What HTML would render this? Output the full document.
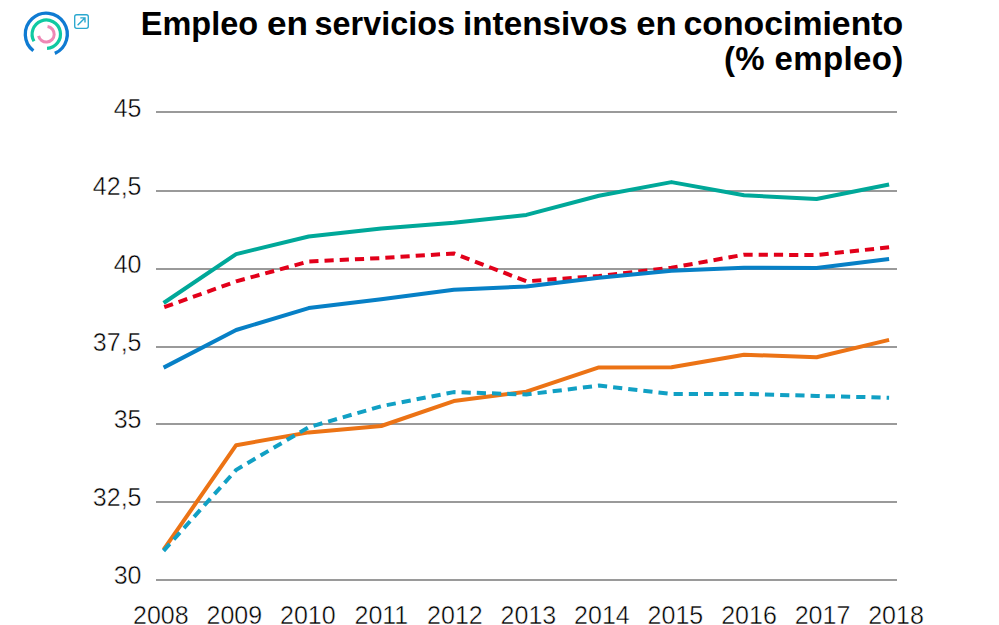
<!DOCTYPE html>
<html><head><meta charset="utf-8"><style>
html,body{margin:0;padding:0;background:#fff;width:999px;height:625px;overflow:hidden}
svg{display:block}
.t{font-family:"Liberation Sans",sans-serif;font-weight:bold;font-size:33px;fill:#000}
.l{font-family:"Liberation Sans",sans-serif;font-size:25px;fill:#000;stroke:#fff;stroke-width:0.45px}
</style></head><body>
<svg width="999" height="625" viewBox="0 0 999 625">
<rect width="999" height="625" fill="#fff"/>
<path d="M33.37 50.75A21 21 0 1 1 54.84 53.38" stroke="#0f7bd2" stroke-width="3.3" fill="none"/>
<path d="M34.00 41.30A14.2 14.2 0 1 1 47.04 48.38" stroke="#10c9a2" stroke-width="3.2" fill="none"/>
<path d="M47.54 26.40A7.9 7.9 0 1 1 38.57 35.84" stroke="#ee88b5" stroke-width="3" fill="none"/>
<rect x="74.7" y="14.7" width="13.6" height="13.6" rx="2" fill="none" stroke="#2aa8cf" stroke-width="1.35"/>
<path d="M77.6 25.2 L84.6 18.2 M80.3 17.9 H85 V22.6" fill="none" stroke="#2aa8cf" stroke-width="1.4"/>
<g class="t">
<text x="140.8" y="35" textLength="117.3" lengthAdjust="spacingAndGlyphs">Empleo</text><text x="266.9" y="35" textLength="41.05" lengthAdjust="spacingAndGlyphs">en</text><text x="314.6" y="35" textLength="140.3" lengthAdjust="spacingAndGlyphs">servicios</text><text x="463.1" y="35" textLength="164.3" lengthAdjust="spacingAndGlyphs">intensivos</text><text x="636.25" y="35" textLength="40.5" lengthAdjust="spacingAndGlyphs">en</text><text x="683.5" y="35" textLength="219.7" lengthAdjust="spacingAndGlyphs">conocimiento</text>
<text x="903.5" y="70" text-anchor="end" letter-spacing="0.35">(% empleo)</text>
</g>
<rect x="156" y="111" width="741" height="2" fill="#9a9a9a"/>
<rect x="156" y="190" width="741" height="2" fill="#9a9a9a"/>
<rect x="156" y="268" width="741" height="2" fill="#9a9a9a"/>
<rect x="156" y="346" width="741" height="2" fill="#9a9a9a"/>
<rect x="156" y="423" width="741" height="2" fill="#9a9a9a"/>
<rect x="156" y="501" width="741" height="2" fill="#9a9a9a"/>
<rect x="156" y="579" width="741" height="2" fill="#9a9a9a"/>
<g class="l">
<text x="141.5" y="117" text-anchor="end">45</text>
<text x="141.5" y="195" text-anchor="end">42,5</text>
<text x="141.5" y="273" text-anchor="end">40</text>
<text x="141.5" y="351" text-anchor="end">37,5</text>
<text x="141.5" y="428" text-anchor="end">35</text>
<text x="141.5" y="506" text-anchor="end">32,5</text>
<text x="141.5" y="584" text-anchor="end">30</text>
<text x="160.8" y="623.5" text-anchor="middle">2008</text>
<text x="234.3" y="623.5" text-anchor="middle">2009</text>
<text x="307.8" y="623.5" text-anchor="middle">2010</text>
<text x="381.4" y="623.5" text-anchor="middle">2011</text>
<text x="454.9" y="623.5" text-anchor="middle">2012</text>
<text x="528.4" y="623.5" text-anchor="middle">2013</text>
<text x="601.9" y="623.5" text-anchor="middle">2014</text>
<text x="675.4" y="623.5" text-anchor="middle">2015</text>
<text x="749.0" y="623.5" text-anchor="middle">2016</text>
<text x="822.5" y="623.5" text-anchor="middle">2017</text>
<text x="896.0" y="623.5" text-anchor="middle">2018</text>
</g>
<polyline points="163.60,303.00 236.15,254.10 308.70,236.50 381.25,228.40 453.80,222.80 526.35,214.90 598.90,195.70 671.45,182.10 744.00,195.30 816.55,199.00 889.10,184.50" fill="none" stroke="#00a899" stroke-width="4" stroke-linejoin="round"/>
<polyline points="163.60,307.40 236.15,281.40 308.70,261.50 381.25,258.10 453.80,253.40 526.35,281.30 598.90,276.00 671.45,267.70 744.00,254.70 816.55,255.00 889.10,247.30" fill="none" stroke="#e2001a" stroke-width="4" stroke-dasharray="9.2 6.02" stroke-dashoffset="-0.7" stroke-linejoin="round"/>
<polyline points="163.60,367.60 236.15,330.00 308.70,308.10 381.25,299.20 453.80,289.70 526.35,286.50 598.90,277.70 671.45,270.80 744.00,267.70 816.55,268.10 889.10,259.10" fill="none" stroke="#0780c6" stroke-width="4" stroke-linejoin="round"/>
<polyline points="163.60,549.60 236.15,445.20 308.70,432.40 381.25,426.00 453.80,401.10 526.35,391.70 598.90,367.40 671.45,367.20 744.00,354.70 816.55,357.30 889.10,339.90" fill="none" stroke="#ec7315" stroke-width="4" stroke-linejoin="round"/>
<polyline points="163.60,550.80 236.15,469.90 308.70,427.20 381.25,406.20 453.80,392.10 526.35,394.50 598.90,385.60 671.45,393.90 744.00,393.90 816.55,395.90 889.10,397.70" fill="none" stroke="#11a0c4" stroke-width="4" stroke-dasharray="9.2 6.02" stroke-linejoin="round"/>
</svg>
</body></html>
